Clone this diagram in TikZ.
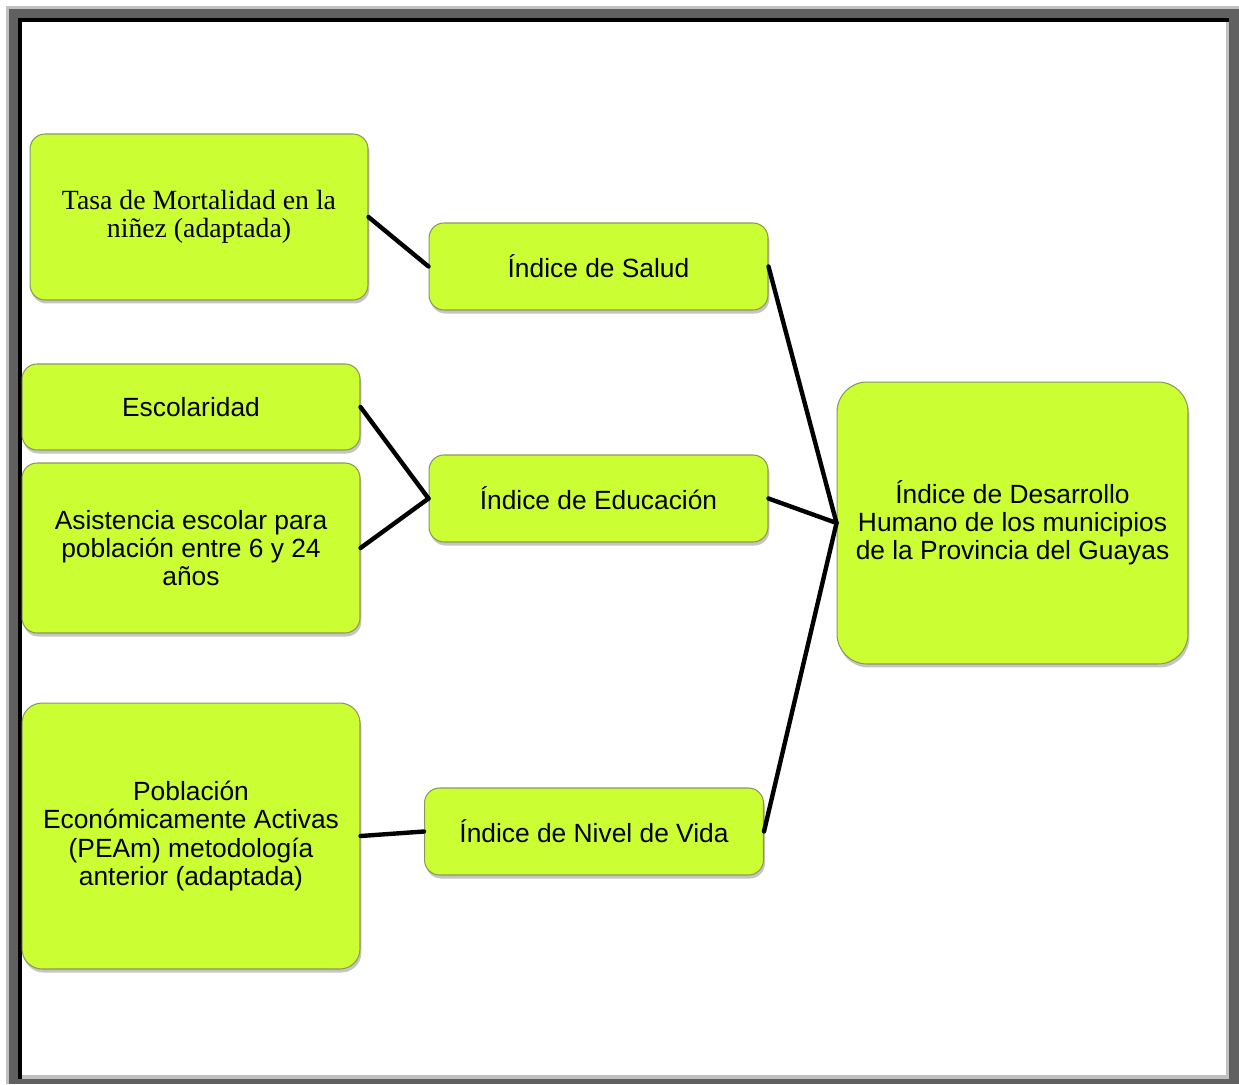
\documentclass[tikz,border=0pt]{standalone}
\usepackage{fontspec}
\setmainfont{Liberation Sans}
\newfontfamily\serifbox{Liberation Serif}
\usepackage{xcolor}
\usetikzlibrary{shadows}
\definecolor{boxGreen}{HTML}{CCFF33}
\definecolor{boxEdge}{HTML}{8A9A55}
\definecolor{frameDark}{HTML}{606060}
\definecolor{frameLight}{HTML}{C0C0C0}
\tikzstyle{fBox} = [rectangle, rounded corners=0.3cm, draw=boxEdge, line width=0.6pt, fill=boxGreen, align=center, font=\fontsize{15}{16}\selectfont, drop shadow={shadow xshift=0.8pt, shadow yshift=-2pt, opacity=0.45}]
\tikzstyle{fSource} = [fBox, minimum width=6.76cm]
\tikzstyle{fIndex} = [fBox, minimum width=6.78cm, minimum height=1.74cm]
\tikzstyle{fLine} = [line width=2.5pt, line cap=round]

\begin{document}
\begin{tikzpicture}[x=0.02cm, y=-0.02cm]
    \useasboundingbox (0,0) rectangle (1239,1084);
    % page frame
    \fill[frameLight] (6,6) rectangle (1239,1084);
    \fill[frameDark] (9,9) rectangle (1239,1084);
    \fill[black] (18,18) rectangle (1229,1079);
    \fill[frameLight] (22,22) rectangle (1229,1079);
    \fill[white] (22,22) rectangle (1226,1075);

    \node (tasa) [fSource, minimum height=3.32cm, font=\serifbox\fontsize{15.8}{16}\selectfont] at (199,217) {Tasa de Mortalidad en la\\niñez (adaptada)};
    \node (salud) [fIndex] at (598.5,266.5) {Índice de Salud};
    \node (escolaridad) [fSource, minimum height=1.72cm] at (191,407) {Escolaridad};
    \node (asistencia) [fSource, minimum height=3.4cm] at (191,548) {Asistencia escolar para\\población entre 6 y 24\\años};
    \node (educacion) [fIndex] at (598.5,498.5) {Índice de Educación};
    \node (poblacion) [fSource, minimum height=5.32cm, rounded corners=0.4cm] at (191,836) {Población\\Económicamente Activas\\(PEAm) metodología\\anterior (adaptada)};
    \node (vida) [fIndex] at (594,831.5) {Índice de Nivel de Vida};
    \node (desarrollo) [fBox, minimum width=7.02cm, minimum height=5.64cm, rounded corners=0.6cm] at (1012.5,523) {Índice de Desarrollo\\Humano de los municipios\\de la Provincia del Guayas};

    \draw [fLine] (tasa.east) -- (salud.west);
    \draw [fLine] (escolaridad.east) -- (educacion.west);
    \draw [fLine] (asistencia.east) -- (educacion.west);
    \draw [fLine] (poblacion.east) -- (vida.west);
    \draw [fLine] (salud.east) -- (desarrollo.west);
    \draw [fLine] (educacion.east) -- (desarrollo.west);
    \draw [fLine] (vida.east) -- (desarrollo.west);
\end{tikzpicture}
\end{document}
